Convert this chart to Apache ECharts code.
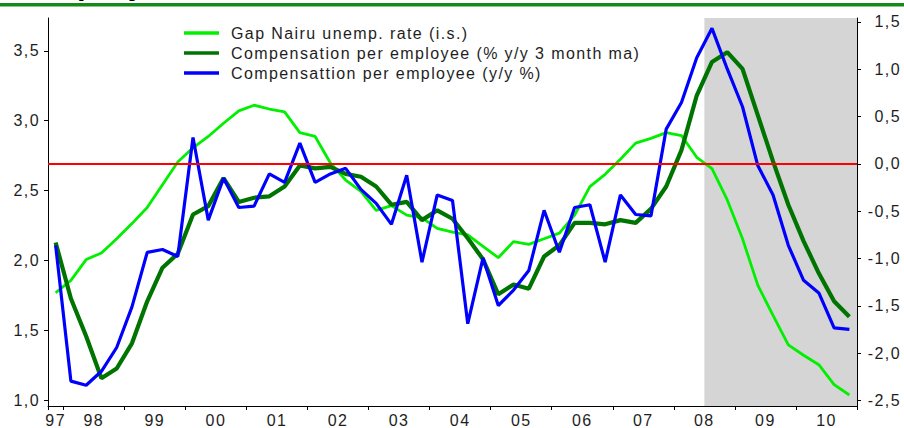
<!DOCTYPE html>
<html>
<head>
<meta charset="utf-8">
<script src="https://cdn.jsdelivr.net/npm/echarts@6/dist/echarts.min.js"></script>
<style>
  html, body { margin: 0; padding: 0; background: #fff; }
  #chart { width: 904px; height: 428px; }
  #chart text { letter-spacing: 1.4px; }
</style>
</head>
<body>
<div id="chart"></div>
<script>
// ---- data ----
const quarters = ['97Q4',
  '98Q1','98Q2','98Q3','98Q4','99Q1','99Q2','99Q3','99Q4',
  '00Q1','00Q2','00Q3','00Q4','01Q1','01Q2','01Q3','01Q4',
  '02Q1','02Q2','02Q3','02Q4','03Q1','03Q2','03Q3','03Q4',
  '04Q1','04Q2','04Q3','04Q4','05Q1','05Q2','05Q3','05Q4',
  '06Q1','06Q2','06Q3','06Q4','07Q1','07Q2','07Q3','07Q4',
  '08Q1','08Q2','08Q3','08Q4','09Q1','09Q2','09Q3','09Q4',
  '10Q1','10Q2','10Q3','10Q4'];
const yearLabels = ['97','98','99','00','01','02','03','04','05','06','07','08','09','10'];
const gapNairu = [-1.36,-1.23,-1.01,-0.94,-0.79,-0.63,-0.46,-0.22,0.02,0.17,
  0.29,0.43,0.56,0.62,0.58,0.55,0.33,0.29,0.01,-0.17,
  -0.29,-0.49,-0.44,-0.54,-0.57,-0.68,-0.72,-0.75,-0.87,-0.99,
  -0.82,-0.85,-0.79,-0.73,-0.54,-0.24,-0.11,0.05,0.22,0.27,
  0.33,0.30,0.07,-0.05,-0.38,-0.79,-1.28,-1.60,-1.91,-2.02,
  -2.12,-2.33,-2.44];
const compMa = [2.13,1.73,1.46,1.16,1.23,1.41,1.71,1.95,2.05,2.33,
  2.39,2.59,2.42,2.45,2.46,2.53,2.68,2.66,2.67,2.62,
  2.60,2.53,2.40,2.42,2.29,2.36,2.30,2.16,2.01,1.76,
  1.83,1.80,2.03,2.11,2.27,2.27,2.26,2.29,2.27,2.37,
  2.53,2.79,3.18,3.42,3.49,3.37,3.04,2.71,2.40,2.14,
  1.91,1.71,1.60];
const compYoy = [2.11,1.14,1.11,1.21,1.38,1.67,2.06,2.08,2.03,2.88,
  2.29,2.59,2.38,2.39,2.62,2.56,2.84,2.56,2.62,2.66,
  2.51,2.41,2.26,2.61,1.99,2.47,2.43,1.55,2.02,1.68,
  1.79,1.93,2.36,2.06,2.38,2.40,1.99,2.47,2.33,2.32,
  2.94,3.13,3.45,3.66,3.37,3.10,2.68,2.47,2.11,1.86,
  1.77,1.52,1.51];
const leftTicks = [1.0, 1.5, 2.0, 2.5, 3.0, 3.5];
const rightTicks = [-2.5, -2.0, -1.5, -1.0, -0.5, 0.0, 0.5, 1.0, 1.5];
const shadeFrom = '08Q3';
const names = ['Gap Nairu unemp. rate (i.s.)',
  'Compensation per employee (% y/y 3 month ma)',
  'Compensattion per employee (y/y %)'];

// ---- derived helpers (positions on a 0..N quarter scale) ----
const N = quarters.length;
const yearTickPos = [0];
const yearLabelPos = [];
yearLabels.forEach(function (y) {
  const idx = [];
  quarters.forEach(function (q, i) { if (q.slice(0, 2) === y) idx.push(i); });
  if (idx.length) {
    if (idx[0] > 0) yearTickPos.push(idx[0]);
    yearLabelPos.push({ pos: (idx[0] + idx[idx.length - 1]) / 2 + 0.5, label: y });
  }
});
yearTickPos.push(N);
const shadeStart = quarters.indexOf(shadeFrom);
const FONT = '"Liberation Sans", Arial, sans-serif';
const fmt = function (v) { return v.toFixed(1).replace('.', ','); };

const chart = echarts.init(document.getElementById('chart'), null, { renderer: 'svg' });
chart.setOption({
  animation: false,
  backgroundColor: '#ffffff',
  grid: { left: 48, right: 44, top: 18, bottom: 22, containLabel: false },
  legend: {
    data: names,
    orient: 'vertical',
    left: 179, top: 18,
    itemGap: 0,
    icon: 'rect',
    itemWidth: 35, itemHeight: 3.5,
    textStyle: { fontFamily: FONT, fontSize: 16, color: '#1e1e1e', lineHeight: 20, padding: [0, 0, 0, 7] },
    selectedMode: false
  },
  graphic: [
    { type: 'rect', shape: { x: 0, y: 3, width: 904, height: 3.5 }, style: { fill: '#168a16' }, silent: true },
    { type: 'text', x: 26, y: -16.5, style: { text: 'Employment', font: 'bold 31px "Liberation Sans", Arial, sans-serif', fill: '#000', verticalAlign: 'middle' }, silent: true }
  ],
  xAxis: [
    { type: 'category', data: quarters, boundaryGap: true, show: false },
    {
      type: 'value', min: 0, max: N, position: 'bottom',
      axisLine: { show: true, lineStyle: { color: '#000', width: 1 } },
      axisTick: { show: true, length: 4, lineStyle: { color: '#000' }, customValues: yearTickPos },
      axisLabel: {
        show: true, margin: 6, fontFamily: FONT, fontSize: 16, color: '#1e1e1e',
        customValues: yearLabelPos.map(function (d) { return d.pos; }),
        formatter: function (v) {
          let best = yearLabelPos[0];
          yearLabelPos.forEach(function (d) { if (Math.abs(d.pos - v) < Math.abs(best.pos - v)) best = d; });
          return best.label;
        }
      },
      splitLine: { show: false }
    }
  ],
  yAxis: [
    {
      type: 'value', position: 'left', min: 0.962, max: 3.734,
      axisLine: { show: true, lineStyle: { color: '#000', width: 1 } },
      axisTick: { show: true, length: 4, lineStyle: { color: '#000' }, customValues: leftTicks },
      axisLabel: { margin: 8, fontFamily: FONT, fontSize: 16, color: '#1e1e1e', customValues: leftTicks, formatter: fmt },
      splitLine: { show: false }
    },
    {
      type: 'value', position: 'right', min: -2.556, max: 1.541,
      axisLine: { show: true, lineStyle: { color: '#000', width: 1 } },
      axisTick: { show: true, length: 4, lineStyle: { color: '#000' }, customValues: rightTicks },
      axisLabel: { margin: 44, align: 'right', fontFamily: FONT, fontSize: 16, color: '#1e1e1e', customValues: rightTicks, formatter: fmt },
      splitLine: { show: false }
    }
  ],
  series: [
    {
      name: 'shade', type: 'line', xAxisIndex: 1, yAxisIndex: 0, data: [], silent: true, z: 0,
      markArea: {
        silent: true,
        itemStyle: { color: '#d5d5d5', opacity: 1 },
        data: [[{ xAxis: shadeStart }, { xAxis: N }]]
      }
    },
    {
      name: names[0], type: 'line', xAxisIndex: 0, yAxisIndex: 1, data: gapNairu,
      symbol: 'none', color: '#00f000',
      lineStyle: { color: '#00f000', width: 2.8 }, itemStyle: { color: '#00f000' }, z: 2
    },
    {
      name: names[1], type: 'line', xAxisIndex: 0, yAxisIndex: 0, data: compMa,
      symbol: 'none', color: '#007400',
      lineStyle: { color: '#007400', width: 4.2 }, itemStyle: { color: '#007400' }, z: 3
    },
    {
      name: names[2], type: 'line', xAxisIndex: 0, yAxisIndex: 0, data: compYoy,
      symbol: 'none', color: '#0000ff',
      lineStyle: { color: '#0000ff', width: 3.2 }, itemStyle: { color: '#0000ff' }, z: 4
    },
    {
      name: 'zero', type: 'line', xAxisIndex: 0, yAxisIndex: 1, data: [], silent: true, z: 5,
      markLine: {
        silent: true, symbol: 'none', label: { show: false },
        lineStyle: { color: '#ff0000', width: 2, type: 'solid' },
        data: [{ yAxis: 0 }]
      }
    }
  ]
});
</script>
</body>
</html>
